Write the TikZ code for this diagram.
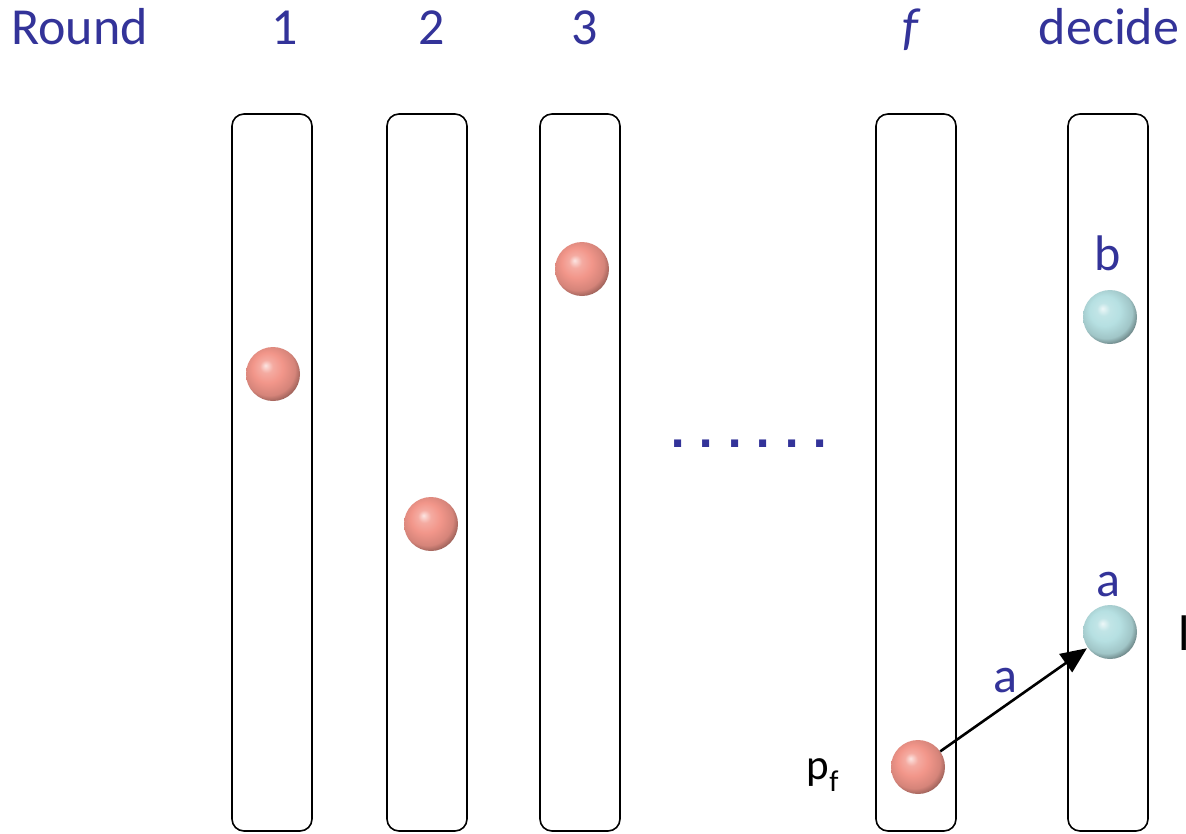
\documentclass[tikz,border=0pt]{standalone}
\usepackage{fontspec}
\setmainfont{Carlito}
\newfontfamily\dotfont{DejaVu Sans}
\usetikzlibrary{arrows.meta}
\definecolor{txtblue}{RGB}{51,51,153}
\definecolor{pinkc}{RGB}{242,150,138}
\definecolor{bluec}{RGB}{182,224,226}
\pgfdeclareradialshading{pinkball}{\pgfpoint{-7bp}{8bp}}{%
  color(0bp)=(pinkc!25!white); color(6bp)=(pinkc!80!white); color(14bp)=(pinkc);
  color(24bp)=(pinkc!88!black); color(29bp)=(pinkc!65!black); color(50bp)=(pinkc!65!black)}
\pgfdeclareradialshading{blueball}{\pgfpoint{-7bp}{8bp}}{%
  color(0bp)=(bluec!25!white); color(6bp)=(bluec!85!white); color(14bp)=(bluec);
  color(24bp)=(bluec!88!black); color(29bp)=(bluec!60!black); color(50bp)=(bluec!60!black)}
\tikzset{
  col/.style={draw=black, line width=1.6pt, rounded corners=12pt},
  hdr/.style={text=txtblue, font=\fontsize{52}{60}\selectfont, inner sep=0pt},
  lbl/.style={text=txtblue, font=\fontsize{50}{60}\selectfont, inner sep=0pt},
  pball/.style={circle, minimum size=54pt, inner sep=0pt, shading=pinkball},
  bball/.style={circle, minimum size=54pt, inner sep=0pt, shading=blueball},
}
\begin{document}
\begin{tikzpicture}[x=1pt,y=-1pt]
\useasboundingbox (0,0) rectangle (1186,833);
% columns
\draw[col] (232,114) rectangle (312,831);
\draw[col] (387,114) rectangle (467,831);
\draw[col] (540,114) rectangle (620,831);
\draw[col] (876,114) rectangle (956,831);
\draw[col] (1068,114) rectangle (1148,831);
% headers
\node[hdr, anchor=base west] (hround) at (11,44) {Round};
\node[hdr, anchor=base] (h1) at (285,44) {1};
\node[hdr, anchor=base] (h2) at (432,44) {2};
\node[hdr, anchor=base] (h3) at (585,44) {3};
\node[hdr, anchor=base] (hf) at (910,44) {\itshape f};
\node[hdr, anchor=base] (hd) at (1109,44) {decide};
% balls
\node[pball] (b1) at (273,374) {};
\node[pball] (b2) at (431,524) {};
\node[pball] (b3) at (582,269) {};
\node[pball] (bf) at (918,767) {};
\node[bball] (db) at (1110,317) {};
\node[bball] (da) at (1110,632) {};
% labels
\node[lbl, anchor=base] (lb) at (1108,270) {b};
\node[lbl, anchor=base] (la) at (1108,596) {a};
\node[lbl, anchor=base] (le) at (1005,692) {a};
\node[anchor=base, inner sep=0pt, font=\fontsize{43}{50}\selectfont] (pf) at (823,779) {p\textsubscript{f}};
\node[anchor=base west, inner sep=0pt, font=\fontsize{50}{60}\selectfont] (cut) at (1178,650) {l};
% dots
\node[anchor=base, text=txtblue, inner sep=0pt, font=\dotfont\bfseries\fontsize{40}{48}\selectfont] (dots) at (749,447)
  {.\hskip13.2pt.\hskip13.2pt.\hskip13.2pt.\hskip13.2pt.\hskip13.2pt.};
% arrow
\draw[line width=2.6pt, -{Triangle[length=26pt,width=22pt]}, shorten >=1pt] (bf) -- (da);
\end{tikzpicture}
\end{document}
